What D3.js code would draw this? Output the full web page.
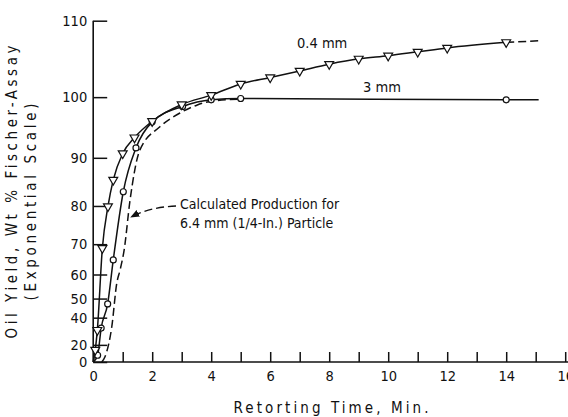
<!DOCTYPE html>
<html><head><meta charset="utf-8">
<script src="https://cdn.jsdelivr.net/npm/d3@7"></script>
<style>
body{margin:0;background:#fff;}
svg{display:block;}
text{font-family:"Liberation Sans Narrow","DejaVu Sans Condensed","Liberation Sans",sans-serif;fill:#111;}
</style></head>
<body>
<svg id="c" width="568" height="417"></svg>
<script>
// ---- data ----
const yTickValues = [0, 20, 40, 50, 60, 70, 80, 90, 100, 110];
const xTickValues = [0,1,2,3,4,5,6,7,8,9,10,11,12,13,14,15,16];
const xTickLabels = ["0","","2","","4","","6","","8","","10","","12","","14","","16"];

// 0.4 mm particles (triangles)
const t04 = [0, 0.07, 0.14, 0.31, 0.5, 0.68, 1.0, 1.4, 2.0, 3.0, 4.0, 5.0, 6.0, 7.0, 8.0, 9.0, 10.0, 11.0, 12.0, 14.0];
const v04 = [0, 15, 32, 68.8, 79.9, 85.7, 90.8, 93.6, 96.3, 98.9, 100.3, 101.9, 102.8, 103.7, 104.6, 105.3, 105.7, 106.2, 106.7, 107.4];
const t04ext = [14.0, 15.2];
const v04ext = [107.4, 107.6];
const m04 = [false, true, true, true, true, true, true, true, true, true, true, true, true, true, true, true, true, true, true, true];

// 3 mm particles (circles)
const t3 = [0, 0.15, 0.27, 0.49, 0.68, 1.02, 1.45, 2.0, 3.03, 4.0, 5.0, 14.0, 15.1];
const v3 = [0, 9, 33.4, 47.4, 65.1, 83.2, 91.8, 96.2, 98.6, 99.6, 99.8, 99.6, 99.6];
const m3 = [false, true, true, true, true, true, true, true, true, true, true, true, false];

// calculated production, 6.4 mm particle (dashed)
const tCalc = [0.29, 0.4, 0.63, 0.8, 0.91, 1.05, 1.25, 1.58, 2.26, 2.94, 3.51, 4.0, 5.0];
const vCalc = [0, 7.2, 34.3, 56.7, 61.6, 68.3, 81.4, 91.4, 95.4, 97.6, 98.8, 99.4, 99.7];

// ---- scales ----
const R = 1.26;
const expo = v => Math.pow(R, v / 10) - 1;   // "exponential scale"
const yLin = d3.scaleLinear().domain([expo(0), expo(110)]).range([362, 20.7]);
const y = v => yLin(expo(v));
const x = d3.scaleLinear().domain([0, 16]).range([93.2, 565.2]);

const svg = d3.select("#c");
const g = svg.append("g");

// axes
const yAxis = d3.axisLeft(yLin)
  .tickValues(yTickValues.map(expo))
  .tickFormat((d, i) => yTickValues[i])
  .tickSize(-14).tickPadding(6);
const ya = g.append("g").attr("transform", `translate(${x(0)},0)`).call(yAxis);
ya.select(".domain").remove();
ya.selectAll("line").attr("stroke", "#111").attr("stroke-width", 1.5);
ya.selectAll("text").attr("font-size", 14.5).style("font-family", null);

const xAxis = d3.axisBottom(x)
  .tickValues(xTickValues)
  .tickFormat((d, i) => xTickLabels[i])
  .tickSize(-10).tickPadding(9);
const xa = g.append("g").attr("transform", `translate(0,${y(0)})`).call(xAxis);
xa.select(".domain").remove();
xa.selectAll("line").attr("stroke", "#111").attr("stroke-width", 1.5);
xa.selectAll("text").attr("font-size", 14.5).style("font-family", null);

// axis lines
g.append("line").attr("x1", x(0)).attr("x2", x(0)).attr("y1", y(110)).attr("y2", y(0))
  .attr("stroke", "#111").attr("stroke-width", 1.6);
g.append("line").attr("x1", x(0)).attr("x2", 568).attr("y1", y(0)).attr("y2", y(0))
  .attr("stroke", "#111").attr("stroke-width", 1.6);

// lines
const line = d3.line().x(d => x(d[0])).y(d => y(d[1])).curve(d3.curveMonotoneX);
const zip = (a, b) => a.map((d, i) => [d, b[i]]);

g.append("path").datum(zip(tCalc, vCalc)).attr("d", line)
  .attr("fill", "none").attr("stroke", "#111").attr("stroke-width", 1.5).attr("stroke-dasharray", "8,4");
g.append("path").datum(zip(t3, v3)).attr("d", line)
  .attr("fill", "none").attr("stroke", "#111").attr("stroke-width", 1.5);
g.append("path").datum(zip(t04, v04)).attr("d", line)
  .attr("fill", "none").attr("stroke", "#111").attr("stroke-width", 1.5);
g.append("path").datum(zip(t04ext, v04ext)).attr("d", line)
  .attr("fill", "none").attr("stroke", "#111").attr("stroke-width", 1.5).attr("stroke-dasharray", "8,4");

// markers
g.selectAll(".c3").data(zip(t3, v3).filter((d, i) => m3[i])).enter().append("circle")
  .attr("cx", d => x(d[0])).attr("cy", d => y(d[1])).attr("r", 3)
  .attr("fill", "#fff").attr("stroke", "#111").attr("stroke-width", 1.2);
const tri = d3.symbol().type(d3.symbolTriangle).size(34);
g.selectAll(".t04").data(zip(t04, v04).filter((d, i) => m04[i])).enter().append("path")
  .attr("d", tri)
  .attr("transform", d => `translate(${x(d[0])},${y(d[1])}) rotate(180)`)
  .attr("fill", "#fff").attr("stroke", "#111").attr("stroke-width", 1.2);

// annotations
g.append("text").attr("x", 297).attr("y", 48).attr("font-size", 14.5).text("0.4 mm");
g.append("text").attr("x", 363).attr("y", 92).attr("font-size", 14.5).text("3 mm");
g.append("text").attr("x", 180).attr("y", 209).attr("font-size", 14).text("Calculated Production for");
g.append("text").attr("x", 180).attr("y", 228).attr("font-size", 14).text("6.4 mm (1/4-In.) Particle");

svg.append("defs").append("marker").attr("id", "arr").attr("viewBox", "0 0 10 10")
  .attr("refX", 9).attr("refY", 5).attr("markerWidth", 7).attr("markerHeight", 7)
  .attr("orient", "auto").append("path").attr("d", "M0,1 L10,5 L0,9 Z").attr("fill", "#111");
g.append("path").attr("d", "M176,206 Q150,207 131,217")
  .attr("fill", "none").attr("stroke", "#111").attr("stroke-width", 1.3)
  .attr("stroke-dasharray", "8,4").attr("marker-end", "url(#arr)");

// axis titles
g.append("text").attr("transform", "translate(331,413)").attr("text-anchor", "middle")
  .attr("font-size", 15).attr("textLength", 195).attr("lengthAdjust", "spacing")
  .text("Retorting Time, Min.");
g.append("text").attr("transform", "translate(17,192) rotate(-90)").attr("text-anchor", "middle")
  .attr("font-size", 15).attr("textLength", 293).attr("lengthAdjust", "spacing")
  .text("Oil Yield, Wt % Fischer-Assay");
g.append("text").attr("transform", "translate(36,202) rotate(-90)").attr("text-anchor", "middle")
  .attr("font-size", 15).attr("textLength", 197).attr("lengthAdjust", "spacing")
  .text("(Exponential Scale)");
</script>
</body></html>
